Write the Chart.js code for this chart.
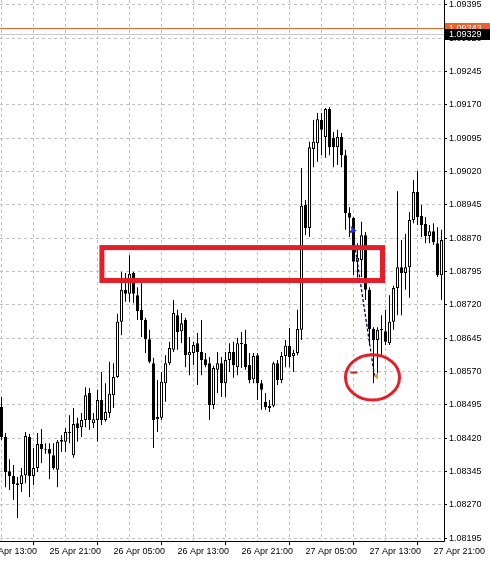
<!DOCTYPE html>
<html>
<head>
<meta charset="utf-8">
<script src="https://cdn.jsdelivr.net/npm/chart.js@4.4.1/dist/chart.umd.min.js"></script>
<style>
  html, body { margin: 0; padding: 0; background: #fff; }
  #wrap { width: 490px; height: 561px; }
</style>
</head>
<body>
<div id="wrap"><canvas id="cv" width="490" height="561"></canvas></div>
<script>
// ── EURUSD M30 candles ──
const barOpen = [
  1.08491, 1.08423, 1.08346, 1.08335, 1.08319, 1.08317, 1.08337, 1.08423, 1.08335, 1.08353,
  1.08407, 1.08396, 1.08396, 1.08382, 1.08349, 1.08412, 1.08412, 1.08434, 1.08382, 1.08454,
  1.08445, 1.08461, 1.08522, 1.08454, 1.08461, 1.08506, 1.08461, 1.08477, 1.08517, 1.08558,
  1.08682, 1.08754, 1.08745, 1.08792, 1.08742, 1.08709, 1.08686, 1.08643, 1.08589, 1.08463,
  1.08466, 1.08544, 1.08589, 1.08619, 1.08697, 1.08661, 1.08686, 1.08607, 1.08612, 1.08634,
  1.08614, 1.08598, 1.08589, 1.08495, 1.08574, 1.08589, 1.08544, 1.08596, 1.08614, 1.08580,
  1.08632, 1.08632, 1.08585, 1.08553, 1.08607, 1.08544, 1.08502, 1.08493, 1.08493, 1.08589,
  1.08551, 1.08605, 1.08628, 1.08605, 1.08612, 1.08664, 1.08945, 1.08893, 1.09071, 1.09084,
  1.09136, 1.09098, 1.09161, 1.09096, 1.09075, 1.09098, 1.09057, 1.08927, 1.08916, 1.08817,
  1.08821, 1.08877, 1.08754, 1.08666, 1.08641, 1.08666, 1.08661, 1.08634, 1.08682, 1.08758,
  1.08805, 1.08792, 1.08805, 1.08911, 1.08974, 1.08920, 1.08902, 1.08875, 1.08886, 1.08859,
  1.08787
];
const barHigh = [
  1.08513, 1.08432, 1.08373, 1.08360, 1.08333, 1.08353, 1.08434, 1.08430, 1.08398, 1.08432,
  1.08441, 1.08409, 1.08409, 1.08409, 1.08416, 1.08427, 1.08443, 1.08472, 1.08488, 1.08466,
  1.08477, 1.08535, 1.08533, 1.08477, 1.08529, 1.08569, 1.08544, 1.08592, 1.08589, 1.08700,
  1.08794, 1.08792, 1.08832, 1.08794, 1.08760, 1.08769, 1.08691, 1.08664, 1.08601, 1.08551,
  1.08569, 1.08607, 1.08637, 1.08731, 1.08709, 1.08702, 1.08691, 1.08648, 1.08637, 1.08657,
  1.08686, 1.08612, 1.08603, 1.08583, 1.08614, 1.08603, 1.08614, 1.08634, 1.08637, 1.08646,
  1.08659, 1.08664, 1.08612, 1.08612, 1.08612, 1.08551, 1.08522, 1.08506, 1.08592, 1.08596,
  1.08614, 1.08641, 1.08668, 1.08619, 1.08709, 1.09028, 1.08956, 1.09087, 1.09136, 1.09152,
  1.09152, 1.09163, 1.09165, 1.09109, 1.09114, 1.09107, 1.09069, 1.08940, 1.08918, 1.08859,
  1.08907, 1.08884, 1.08760, 1.08670, 1.08670, 1.08697, 1.08709, 1.08742, 1.08763, 1.08976,
  1.08866, 1.08880, 1.08929, 1.09001, 1.09021, 1.08945, 1.08918, 1.08900, 1.08904, 1.08895,
  1.08889
];
const barLow = [
  1.08416, 1.08310, 1.08304, 1.08281, 1.08241, 1.08299, 1.08319, 1.08288, 1.08315, 1.08344,
  1.08364, 1.08385, 1.08328, 1.08349, 1.08310, 1.08389, 1.08389, 1.08409, 1.08376, 1.08412,
  1.08423, 1.08445, 1.08439, 1.08443, 1.08412, 1.08450, 1.08457, 1.08466, 1.08488, 1.08556,
  1.08652, 1.08727, 1.08727, 1.08724, 1.08686, 1.08648, 1.08612, 1.08589, 1.08398, 1.08434,
  1.08461, 1.08502, 1.08585, 1.08614, 1.08619, 1.08634, 1.08580, 1.08562, 1.08585, 1.08540,
  1.08562, 1.08580, 1.08461, 1.08486, 1.08522, 1.08513, 1.08513, 1.08569, 1.08556, 1.08562,
  1.08578, 1.08574, 1.08544, 1.08544, 1.08506, 1.08484, 1.08484, 1.08479, 1.08490, 1.08540,
  1.08544, 1.08580, 1.08580, 1.08569, 1.08607, 1.08641, 1.08877, 1.08873, 1.09030, 1.09042,
  1.09057, 1.09051, 1.09057, 1.09030, 1.09035, 1.09030, 1.08889, 1.08873, 1.08787, 1.08781,
  1.08783, 1.08731, 1.08630, 1.08544, 1.08567, 1.08607, 1.08630, 1.08630, 1.08664, 1.08697,
  1.08697, 1.08754, 1.08736, 1.08904, 1.08900, 1.08873, 1.08859, 1.08859, 1.08855, 1.08783,
  1.08731
];
const barClose = [
  1.08423, 1.08344, 1.08335, 1.08317, 1.08315, 1.08337, 1.08425, 1.08335, 1.08353, 1.08407,
  1.08396, 1.08394, 1.08385, 1.08353, 1.08412, 1.08416, 1.08434, 1.08432, 1.08452, 1.08443,
  1.08461, 1.08517, 1.08461, 1.08463, 1.08506, 1.08461, 1.08479, 1.08520, 1.08558, 1.08682,
  1.08754, 1.08745, 1.08790, 1.08745, 1.08706, 1.08686, 1.08643, 1.08592, 1.08461, 1.08468,
  1.08547, 1.08589, 1.08623, 1.08702, 1.08659, 1.08679, 1.08607, 1.08614, 1.08630, 1.08614,
  1.08596, 1.08585, 1.08495, 1.08578, 1.08589, 1.08544, 1.08596, 1.08614, 1.08585, 1.08634,
  1.08634, 1.08580, 1.08551, 1.08605, 1.08544, 1.08529, 1.08490, 1.08488, 1.08589, 1.08551,
  1.08605, 1.08628, 1.08603, 1.08612, 1.08666, 1.08943, 1.08893, 1.09075, 1.09087, 1.09138,
  1.09114, 1.09161, 1.09075, 1.09075, 1.09098, 1.09057, 1.08927, 1.08916, 1.08817, 1.08826,
  1.08877, 1.08754, 1.08666, 1.08641, 1.08664, 1.08663, 1.08637, 1.08682, 1.08758, 1.08805,
  1.08792, 1.08805, 1.08911, 1.08974, 1.08918, 1.08900, 1.08875, 1.08886, 1.08861, 1.08787,
  1.08866
];

// axis ticks
const priceTicks = [
  1.08195, 1.08270, 1.08345, 1.08420, 1.08495, 1.08570, 1.08645, 1.08720, 1.08795,
  1.08870, 1.08945, 1.09020, 1.09095, 1.09170, 1.09245, 1.09320, 1.09395
];
const gridBars = [-4, 4, 12, 20, 28, 36, 44, 52, 60, 68, 76, 84, 92, 100, 108];
const labelBars = [-4, 12, 28, 44, 60, 76, 92, 108];
const timeLabels = ['25 Apr 13:00', '25 Apr 21:00', '26 Apr 05:00', '26 Apr 13:00',
                    '26 Apr 21:00', '27 Apr 05:00', '27 Apr 13:00', '27 Apr 21:00'];

// price lines (ask / bid)
const askPrice = 1.09343;
const bidPrice = 1.09329;

// hand-drawn markup on the screenshot (bar index, price)
const zoneBars = [25.1, 95.25];
const zonePrices = [1.08849, 1.08775];
const circleBar = 92.75, circleBarRadius = 6.75;
const circlePrice = 1.08557, circlePriceRadius = 0.00051;
const tradeFrom = [87.75, 1.08889];
const tradeTo = [93.25, 1.08560];
const stopBars = [87.25, 89.0], stopPrice = 1.08568;
const closeMark = [93.5, 1.08560];

const FONT = '"Liberation Sans", Arial, sans-serif';

const wickData = barLow.map((l, i) => ({ x: i, y: [l, barHigh[i]] }));
const bodyData = barOpen.map((o, i) => ({ x: i, y: [o, barClose[i]] }));

const markup = {
  id: 'markup',
  afterDatasetsDraw(chart) {
    const { ctx, scales: { x, y }, chartArea: ca } = chart;
    ctx.save();
    // ask / bid lines
    ctx.lineWidth = 1;
    ctx.strokeStyle = '#c8c8c8';
    let py = Math.round(y.getPixelForValue(bidPrice)) + 0.5;
    ctx.beginPath(); ctx.moveTo(ca.left, py); ctx.lineTo(ca.right, py); ctx.stroke();
    ctx.strokeStyle = '#e8622c';
    py = Math.round(y.getPixelForValue(askPrice)) + 0.5;
    ctx.beginPath(); ctx.moveTo(ca.left, py); ctx.lineTo(ca.right, py); ctx.stroke();

    // trade line (dotted)
    ctx.strokeStyle = '#000070';
    ctx.lineWidth = 1.3;
    ctx.setLineDash([3, 2]);
    ctx.beginPath();
    ctx.moveTo(x.getPixelForValue(tradeFrom[0]), y.getPixelForValue(tradeFrom[1]));
    ctx.lineTo(x.getPixelForValue(tradeTo[0]), y.getPixelForValue(tradeTo[1]));
    ctx.stroke();
    ctx.setLineDash([]);

    // open arrow
    const ax = x.getPixelForValue(tradeFrom[0]), ay = y.getPixelForValue(tradeFrom[1]);
    ctx.fillStyle = '#1830e8';
    ctx.beginPath();
    ctx.moveTo(ax + 4, ay + 1); ctx.lineTo(ax - 2, ay - 4); ctx.lineTo(ax - 1, ay);
    ctx.lineTo(ax - 4, ay + 3); ctx.lineTo(ax, ay + 3); ctx.closePath(); ctx.fill();

    // stop dash
    ctx.strokeStyle = '#b02828';
    ctx.lineWidth = 2;
    py = y.getPixelForValue(stopPrice);
    ctx.beginPath();
    ctx.moveTo(x.getPixelForValue(stopBars[0]), py);
    ctx.lineTo(x.getPixelForValue(stopBars[1]), py);
    ctx.stroke();

    // close mark
    const cx = x.getPixelForValue(closeMark[0]), cy = y.getPixelForValue(closeMark[1]);
    ctx.fillStyle = '#e0a030';
    ctx.beginPath();
    ctx.moveTo(cx - 2, cy); ctx.lineTo(cx + 2.5, cy - 3.5); ctx.lineTo(cx + 2.5, cy + 3.5);
    ctx.closePath(); ctx.fill();

    // zone rectangle
    ctx.strokeStyle = '#e3202a';
    ctx.lineWidth = 5;
    const x1 = x.getPixelForValue(zoneBars[0]), x2 = x.getPixelForValue(zoneBars[1]);
    const y1 = y.getPixelForValue(zonePrices[0]), y2 = y.getPixelForValue(zonePrices[1]);
    ctx.strokeRect(x1, y1, x2 - x1, y2 - y1);

    // circle
    const ex = x.getPixelForValue(circleBar);
    const ey = y.getPixelForValue(circlePrice);
    const rx = x.getPixelForValue(circleBar + circleBarRadius) - ex;
    const ry = ey - y.getPixelForValue(circlePrice + circlePriceRadius);
    ctx.lineWidth = 3;
    ctx.beginPath(); ctx.ellipse(ex, ey, rx, ry, 0, 0, Math.PI * 2); ctx.stroke();
    ctx.restore();
  },
  afterDraw(chart) {
    const { ctx, scales: { y }, chartArea: ca } = chart;
    ctx.save();
    ctx.font = '9px ' + FONT;
    ctx.textBaseline = 'middle';
    const box = (price, bg) => {
      const py = y.getPixelForValue(price);
      ctx.fillStyle = bg;
      ctx.fillRect(ca.right + 1, Math.round(py - 5.5), chart.width - ca.right - 1, 11);
      ctx.fillStyle = '#fff';
      ctx.fillText(price.toFixed(5), ca.right + 5, py + 0.5);
    };
    box(askPrice, '#e8622c');
    box(bidPrice, '#000');
    ctx.restore();
  }
};

new Chart(document.getElementById('cv'), {
  type: 'bar',
  data: {
    datasets: [
      {
        label: 'wick',
        data: wickData,
        backgroundColor: '#000',
        borderWidth: 0,
        barThickness: 1,
        grouped: false,
        inflateAmount: 0,
        order: 2
      },
      {
        label: 'body',
        data: bodyData,
        backgroundColor: c => {
          const i = c.dataIndex;
          return barClose[i] >= barOpen[i] ? '#fff' : '#000';
        },
        borderColor: '#000',
        borderWidth: 1,
        borderSkipped: false,
        barThickness: 3,
        minBarLength: 1,
        grouped: false,
        inflateAmount: 0,
        order: 1
      }
    ]
  },
  options: {
    responsive: false,
    animation: false,
    devicePixelRatio: 1,
    layout: { padding: 0 },
    plugins: { legend: { display: false }, tooltip: { enabled: false } },
    scales: {
      x: {
        type: 'linear',
        position: 'bottom',
        min: -0.375,
        max: 110.625,
        offset: false,
        afterBuildTicks: s => { s.ticks = gridBars.map(v => ({ value: v })); },
        afterFit: s => { s.height = 20; s.paddingLeft = 0; s.paddingRight = 0; },
        ticks: {
          autoSkip: false,
          maxRotation: 0,
          minRotation: 0,
          align: 'start',
          padding: 1,
          color: '#000',
          font: { family: FONT, size: 9 },
          callback: v => {
            const k = labelBars.indexOf(v);
            return k < 0 ? '' : timeLabels[k];
          }
        },
        grid: {
          color: '#c0c0c0',
          lineWidth: 1,
          tickLength: 4,
          tickBorderDash: [],
          tickColor: c => (c.tick && labelBars.includes(c.tick.value)) ? '#000' : 'rgba(0,0,0,0)'
        },
        border: { display: true, color: '#000', width: 1, dash: [3, 3] }
      },
      y: {
        type: 'linear',
        position: 'right',
        min: 1.08189,
        max: 1.09406,
        afterBuildTicks: s => { s.ticks = priceTicks.map(v => ({ value: v })); },
        afterFit: s => { s.width = 46; s.paddingTop = 0; s.paddingBottom = 0; },
        ticks: {
          padding: 2,
          color: '#000',
          font: { family: FONT, size: 9 },
          callback: v => v.toFixed(5)
        },
        grid: {
          color: '#c0c0c0',
          lineWidth: 1,
          tickLength: 3,
          tickBorderDash: [],
          tickColor: '#000'
        },
        border: { display: true, color: '#000', width: 1, dash: [3, 3] }
      }
    }
  },
  plugins: [markup]
});
</script>
</body>
</html>
